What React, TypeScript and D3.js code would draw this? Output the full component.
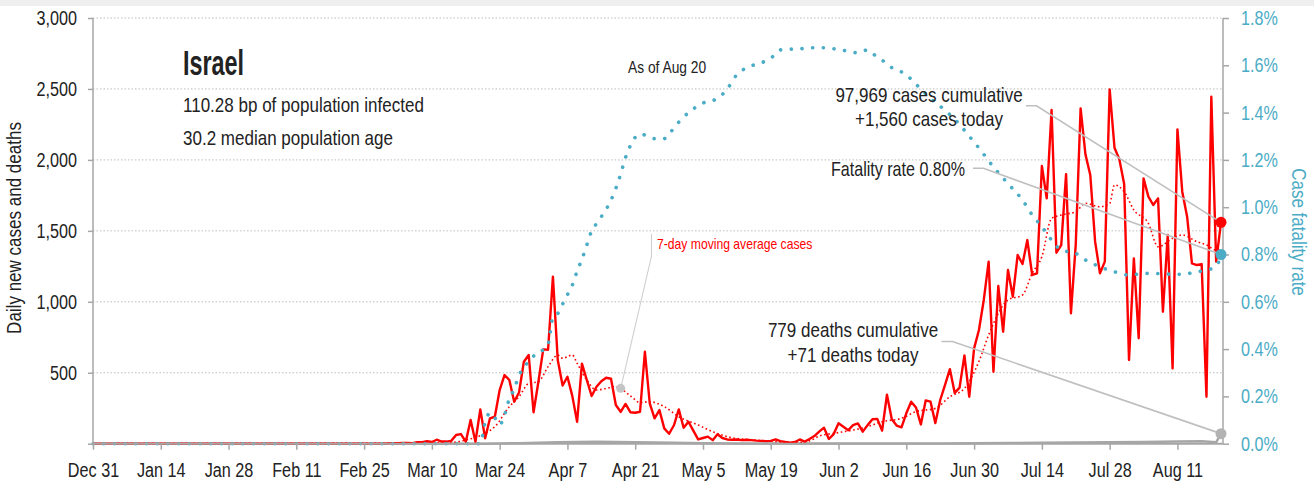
import { useRef, useEffect } from "react";
import * as d3 from "d3";

// Israel, daily new cases from Dec 31 2019 to Aug 20 2020 (one value per day)
const startDate = new Date(2019, 11, 31);
const endDate = new Date(2020, 7, 20);

const casesDaily = [
  // Dec 31 - Feb 29
  0, 0, 0, 0, 0, 0, 0, 0, 0, 0, 0, 0, 0, 0, 0, 0, 0, 0, 0, 0, 0, 0, 0, 0, 0, 0, 0, 0, 0, 0,
  0, 0, 0, 0, 0, 0, 0, 0, 0, 0, 0, 0, 0, 0, 0, 0, 0, 0, 0, 0, 0, 0, 0, 0, 0, 0, 0, 0, 0, 0, 0,
  // Mar 1 -
  2, 3, 3, 5, 5, 4, 10, 11, 17, 12,
  28, 15, 15, 20, 61, 68, 14, 167, 14, 242,
  38, 179, 190, 378, 484, 449, 296, 361, 578, 625,
  222, 437, 665, 662, 1177, 590, 410, 472, 337, 155,
  564, 449, 336, 401, 440, 465, 458, 273, 224, 280,
  222, 218, 225, 648, 285, 179, 237, 108, 70, 130,
  242, 112, 155, 92, 30, 40, 50, 25, 67, 40,
  30, 28, 30, 25, 28, 25, 22, 20, 18, 20,
  30, 18, 12, 7, 12, 30, 15, 33, 54, 85,
  113, 33, 68, 144, 120, 95, 131, 143, 85, 131,
  172, 175, 92, 345, 172, 128, 115, 214, 296, 255,
  136, 305, 296, 145, 308, 414, 525, 358, 395, 622,
  331, 672, 801, 1013, 1283, 507, 1111, 789, 1224, 1036,
  1330, 1266, 1435, 1189, 1201, 1957, 1729, 2352, 1346, 1400,
  1900, 919, 1405, 2363, 2039, 1893, 1424, 1201, 1283, 2497,
  2086, 2004, 1830, 590, 1306, 743, 1870, 1741, 1682, 1729,
  930, 1471, 531, 2215, 1776, 1600, 1271, 1259, 1266, 331,
  2445, 1283, 1560,
];

// 7-day moving average of cases (day = days after Dec 31)
const maDays = [0, 70, 74, 77, 81, 83, 86, 88, 90, 92, 94, 96, 97, 99, 100, 102, 104, 106, 108, 111,
  113, 115, 118, 121, 125, 128, 132, 135, 139, 142, 145, 148, 150, 153, 157, 160, 163, 167, 170, 174,
  177, 180, 183, 185, 189, 192, 194, 196, 198, 200, 203, 205, 208, 210, 211, 213, 215, 218, 220, 223,
  225, 228, 230, 232, 233];
const maCases = [0, 5, 8, 26, 73, 120, 261, 331, 425, 437, 543, 625, 602, 625, 567, 449, 378, 390, 402, 337,
  290, 296, 261, 190, 132, 85, 42, 30, 20, 12, 8, 20, 54, 73, 96, 120, 155, 179, 226, 249,
  331, 390, 580, 766, 1013, 1048, 1201, 1318, 1588, 1612, 1635, 1694, 1670, 1694, 1823, 1776, 1647, 1553, 1388, 1447,
  1471, 1424, 1400, 1365, 1380];

// case fatality rate (%), right axis
const cfrDays = [0, 80, 81, 82, 83, 84, 85, 86, 87, 88, 89, 90, 91, 92, 93, 94, 95, 96, 97, 98, 99, 100,
  101, 102, 103, 104, 105, 107, 109, 110, 111, 113, 116, 118, 119, 121, 123, 126, 129, 131, 133, 135,
  138, 140, 142, 146, 150, 154, 158, 160, 161, 163, 165, 168, 170, 173, 176, 179, 181, 183, 186, 189,
  192, 194, 196, 198, 200, 203, 205, 208, 211, 214, 217, 219, 222, 225, 228, 230, 232, 233];
const cfrPct = [0, 0, 0.09, 0.13, 0.11, 0.08, 0.12, 0.19, 0.23, 0.29, 0.32, 0.35, 0.37, 0.39, 0.396, 0.42, 0.535, 0.55, 0.59, 0.63, 0.67, 0.73,
  0.78, 0.84, 0.9, 0.93, 0.96, 1.03, 1.14, 1.21, 1.26, 1.31, 1.29, 1.29, 1.31, 1.36, 1.4, 1.44, 1.46, 1.5, 1.56, 1.59,
  1.61, 1.63, 1.665, 1.67, 1.675, 1.667, 1.653, 1.665, 1.65, 1.622, 1.59, 1.56, 1.52, 1.46, 1.41, 1.35, 1.3, 1.25, 1.17, 1.1,
  1.03, 0.967, 0.918, 0.861, 0.819, 0.805, 0.777, 0.748, 0.727, 0.713, 0.72, 0.72, 0.717, 0.716, 0.727, 0.734, 0.75, 0.8];

// daily deaths (estimated, they hug the baseline)
const deathDays = [0, 80, 84, 88, 92, 96, 100, 104, 108, 112, 116, 120, 126, 133, 140, 147, 154, 161, 168, 175,
  182, 189, 196, 203, 210, 217, 224, 229, 232, 233];
const deathsDaily = [0, 0, 2, 4, 7, 10, 12, 14, 12, 10, 8, 6, 4, 2, 1, 1, 1, 1, 1, 2,
  3, 5, 6, 8, 10, 12, 15, 18, 10, 71];

const tickLabels = ["Dec 31", "Jan 14", "Jan 28", "Feb 11", "Feb 25", "Mar 10", "Mar 24", "Apr 7", "Apr 21",
  "May 5", "May 19", "Jun 2", "Jun 16", "Jun 30", "Jul 14", "Jul 28", "Aug 11"];
const leftTicks = [0, 500, 1000, 1500, 2000, 2500, 3000];
const rightTicks = [0, 0.2, 0.4, 0.6, 0.8, 1.0, 1.2, 1.4, 1.6, 1.8];

const FONT = "'Liberation Sans', Arial, sans-serif";
const NARROW = 0.81; // squeeze to a condensed look
const RED = "#ff0000";
const BLUE = "#4bacc6";
const GREY = "#a6a6a6";

const App = () => {
  const svgRef = useRef<SVGSVGElement>(null);
  const width = 1314;
  const height = 485;

  useEffect(() => {
    const svg = d3.select(svgRef.current);
    svg.selectAll("*").remove();
    svg.style("font-family", FONT);

    const left = 93, right = 1223, top = 18, bottom = 443.7;
    const day = (i: number) => d3.timeDay.offset(startDate, i);
    const parseTick = d3.timeParse("%b %d %Y");
    const tickDates = tickLabels.map(t => parseTick(t + (t.startsWith("Dec") ? " 2019" : " 2020")) as Date);

    const x = d3.scaleTime().domain([startDate, endDate]).range([left, 1221]);
    const y = d3.scaleLinear().domain([0, 3000]).range([bottom, top]);
    const yR = d3.scaleLinear().domain([0, 1.8]).range([bottom, top]);

    // top band
    svg.append("rect").attr("width", width).attr("height", 6).attr("fill", "#efefef");

    // gridlines
    svg.append("g").selectAll("line")
      .data(leftTicks.filter(d => d > 0))
      .enter().append("line")
      .attr("x1", left).attr("x2", right)
      .attr("y1", d => y(d)).attr("y2", d => y(d))
      .attr("stroke", "#bdbdbd").attr("stroke-width", 1).attr("stroke-dasharray", "1.5,2");

    // deaths
    svg.append("path")
      .datum(deathDays.map((d, i) => [d, deathsDaily[i]]))
      .attr("fill", "none").attr("stroke", GREY).attr("stroke-width", 2.5)
      .attr("d", d3.line<number[]>().x(d => x(day(d[0]))).y(d => y(d[1])));

    // daily cases
    svg.append("path")
      .datum(casesDaily)
      .attr("fill", "none").attr("stroke", RED).attr("stroke-width", 2.4).attr("stroke-linejoin", "round")
      .attr("d", d3.line<number>().x((_, i) => x(day(i))).y(d => y(d)));

    // 7-day moving average
    svg.append("path")
      .datum(maDays.map((d, i) => [d, maCases[i]]))
      .attr("fill", "none").attr("stroke", RED).attr("stroke-width", 1.6).attr("stroke-dasharray", "1.6,2.6")
      .attr("d", d3.line<number[]>().curve(d3.curveMonotoneX).x(d => x(day(d[0]))).y(d => y(d[1])));

    // case fatality rate
    svg.append("path")
      .datum(cfrDays.map((d, i) => [d, cfrPct[i]]))
      .attr("fill", "none").attr("stroke", BLUE).attr("stroke-width", 3.6)
      .attr("stroke-linecap", "round").attr("stroke-dasharray", "0.1,10.6")
      .attr("d", d3.line<number[]>().curve(d3.curveMonotoneX).x(d => x(day(d[0]))).y(d => yR(d[1])));

    // axes
    const axisStyle = (g: d3.Selection<SVGGElement, unknown, null, undefined>, color: string) => {
      g.select(".domain").remove();
      g.selectAll(".tick line").attr("stroke", GREY).attr("stroke-width", 1.5);
      g.selectAll(".tick text").attr("fill", color).style("font-family", FONT).style("font-size", "20px");
    };

    const gx = svg.append("g").attr("transform", `translate(0,${bottom})`)
      .call(d3.axisBottom(x).tickValues(tickDates).tickFormat((_, i) => tickLabels[i]).tickSize(6).tickPadding(13.5).tickSizeOuter(0));
    axisStyle(gx, "#222");

    const gy = svg.append("g").attr("transform", `translate(${left},0)`)
      .call(d3.axisLeft(y).tickValues(leftTicks).tickFormat(d => (+d === 0 ? "" : d3.format(",")(+d))).tickSize(5).tickPadding(11).tickSizeOuter(0));
    axisStyle(gy, "#222");

    const gr = svg.append("g").attr("transform", `translate(${right},0)`)
      .call(d3.axisRight(yR).tickValues(rightTicks).tickFormat(d => (+d).toFixed(1) + "%").tickSize(6).tickPadding(12).tickSizeOuter(0));
    axisStyle(gr, BLUE);

    svg.append("line").attr("x1", left).attr("x2", left).attr("y1", top).attr("y2", bottom)
      .attr("stroke", GREY).attr("stroke-width", 1.5);
    svg.append("line").attr("x1", right).attr("x2", right).attr("y1", top).attr("y2", bottom)
      .attr("stroke", GREY).attr("stroke-width", 1.5);
    svg.append("line").attr("x1", left).attr("x2", right).attr("y1", bottom).attr("y2", bottom)
      .attr("stroke", GREY).attr("stroke-width", 2);

    // axis titles
    svg.append("text").attr("transform", "translate(20.5,228) rotate(-90)")
      .attr("text-anchor", "middle").attr("fill", "#222").style("font-size", "21px")
      .text("Daily new cases and deaths");
    svg.append("text").attr("transform", "translate(1291.5,232) rotate(90)")
      .attr("text-anchor", "middle").attr("fill", BLUE).style("font-size", "21px")
      .text("Case fatality rate");

    // leader lines and end markers
    const last = casesDaily.length - 1;
    const xEnd = x(day(last));
    const leader = (pts: [number, number][], color = "#bfbfbf", w = 1.6) =>
      svg.append("path").attr("d", d3.line()(pts)).attr("fill", "none").attr("stroke", color).attr("stroke-width", w);

    leader([[1026, 105.7], [1036.5, 105.7], [xEnd, y(casesDaily[last])]]);
    leader([[973, 168.3], [983.5, 168.3], [xEnd, yR(cfrPct[cfrPct.length - 1])]]);
    leader([[941.5, 341.5], [952.5, 341.5], [xEnd, y(deathsDaily[deathsDaily.length - 1])]]);
    leader([[651.5, 234], [651.5, 256], [x(day(109.6)), y(390)]], "#cfcfcf", 1.1);

    svg.append("circle").attr("cx", x(day(109.6))).attr("cy", y(390)).attr("r", 4.5).attr("fill", "#c4c4c4");
    svg.append("circle").attr("cx", xEnd).attr("cy", y(deathsDaily[deathsDaily.length - 1])).attr("r", 5.5).attr("fill", "#b3b3b3");
    svg.append("circle").attr("cx", xEnd).attr("cy", yR(cfrPct[cfrPct.length - 1])).attr("r", 5.5).attr("fill", BLUE);
    svg.append("circle").attr("cx", xEnd).attr("cy", y(casesDaily[last])).attr("r", 5.5).attr("fill", RED);

    // text annotations
    const txt = (s: string, tx: number, ty: number, size: number, anchor = "start", color = "#222") =>
      svg.append("text").attr("x", tx).attr("y", ty).attr("text-anchor", anchor)
        .attr("fill", color).style("font-size", `${size}px`).text(s);

    txt("Israel", 183, 75, 35).style("font-weight", "bold").attr("textLength", 61).attr("lengthAdjust", "spacingAndGlyphs");
    txt("110.28 bp of population infected", 183, 111.7, 21);
    txt("30.2 median population age", 183, 145, 21);
    txt("As of Aug 20", 628, 73.3, 17);
    txt("97,969 cases cumulative", 929, 101.7, 21, "middle");
    txt("+1,560 cases today", 929, 126, 21, "middle");
    txt("Fatality rate 0.80%", 965, 176, 21, "end").attr("textLength", 134).attr("lengthAdjust", "spacingAndGlyphs");
    txt("779 deaths cumulative", 853, 336.7, 21, "middle");
    txt("+71 deaths today", 853, 361.7, 21, "middle");
    txt("7-day moving average cases", 657, 248.5, 15, "start", RED);

    // condense every label horizontally
    svg.selectAll<SVGTextElement, unknown>("text").each(function () {
      if (this.getAttribute("textLength")) return;
      const w = this.getComputedTextLength();
      if (w > 0) d3.select(this).attr("textLength", w * NARROW).attr("lengthAdjust", "spacingAndGlyphs");
    });
  }, []);

  return (
    <svg ref={svgRef} width={width} height={height}
      style={{ position: "absolute", left: 0, top: 0, background: "#fff" }} />
  );
};

export default App;
